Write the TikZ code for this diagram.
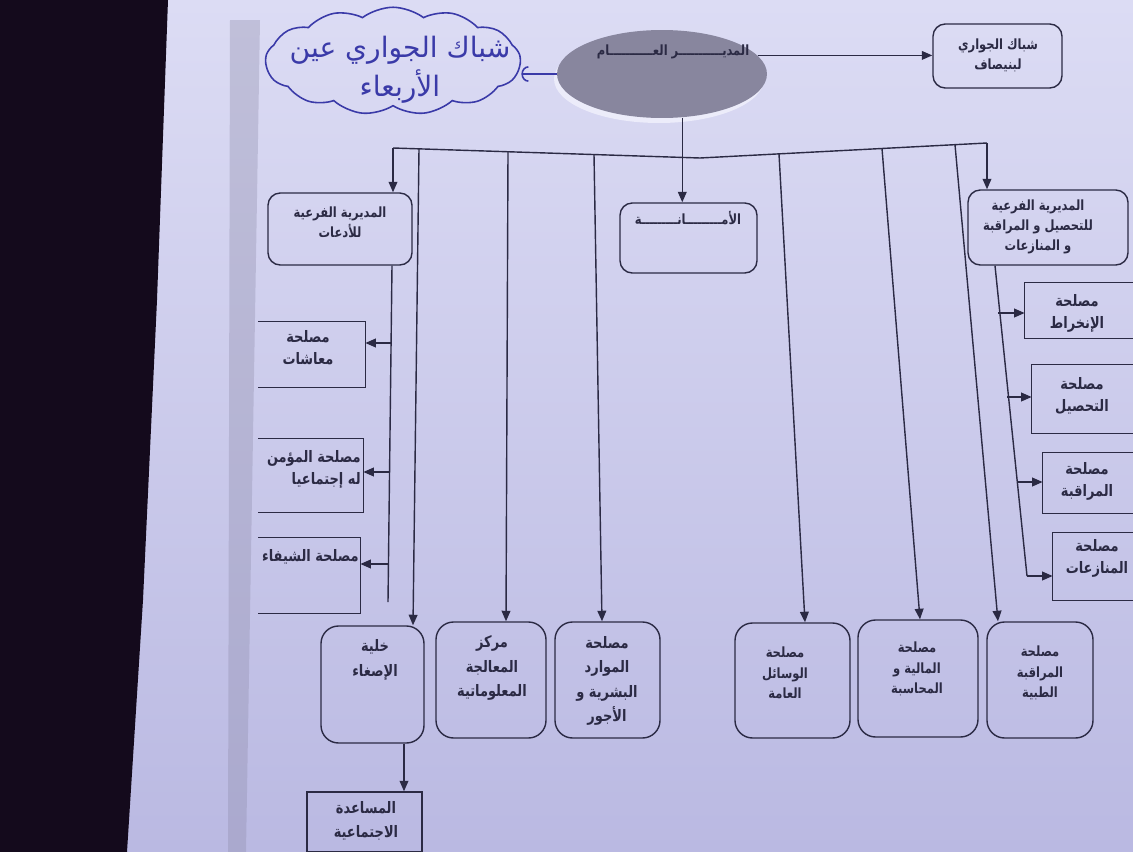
\documentclass[tikz,border=0pt]{standalone}
\usepackage{fontspec}
\usetikzlibrary{arrows.meta,shapes.geometric,shapes.symbols,fit,calc}
\newfontfamily\arabicfont[Script=Arabic, FakeStretch=0.82]{DejaVu Sans}
\newfontfamily\handfont[Script=Arabic]{DejaVu Sans}
\TeXXeTstate=1
\newcommand\ar[1]{\beginR #1\endR}
\definecolor{ink}{HTML}{2B2A44}
\definecolor{handblue}{HTML}{3A3AA8}
\definecolor{paperTop}{HTML}{DCDCF4}
\definecolor{paperBot}{HTML}{BAB9E2}
\definecolor{deskc}{HTML}{140A1C}
\definecolor{shadowc}{HTML}{8E8CAA}
\definecolor{ellc}{HTML}{88869E}
\definecolor{rimc}{HTML}{ECECFA}
\begin{document}
\begin{tikzpicture}[x=0.02cm,y=-0.02cm,
 ln/.style={draw=ink, line width=0.8pt},
 arr/.style={ln, -{Triangle[length=6pt,width=5pt]}},
 rbox/.style={draw=ink, line width=0.8pt, rounded corners=7pt, inner sep=0},
 rbig/.style={draw=ink, line width=0.8pt, rounded corners=10pt, inner sep=0},
 sbox/.style={draw=ink, line width=0.8pt, inner sep=0},
 obox/.style={inner sep=0},
 txt/.style={font=\arabicfont\bfseries\fontsize{8}{11.5}\selectfont, text=ink, align=center, inner sep=0},
 txtm/.style={txt, font=\arabicfont\bfseries\fontsize{9}{12.5}\selectfont},
 txtb/.style={txt, font=\arabicfont\bfseries\fontsize{9}{14}\selectfont},
 hand/.style={font=\handfont\fontsize{16}{22}\selectfont, text=handblue, align=center, inner sep=0},
]
\useasboundingbox (0,0) rectangle (1133,852);
\clip (0,0) rectangle (1133,852);
% background: desk and paper
\shade[top color=paperTop, bottom color=paperBot] (0,0) rectangle (1133,852);
\fill[shadowc, opacity=0.35] (230,20) -- (260,20) -- (246,852) -- (228,852) -- cycle;
\fill[deskc] (0,0) -- (168,0) -- (157,300) -- (143,600) -- (127,852) -- (0,852) -- cycle;

% general director (ellipse)
\fill[rimc] (659,79) ellipse [x radius=2.1cm, y radius=0.88cm];
\node[ellipse, fill=ellc, minimum width=4.2cm, minimum height=1.76cm, inner sep=0] (dg) at (662,74) {};
\node[txt] (dgt) at (673,52) {\ar{المديـــــــــــر العـــــــــــام}};

% handwritten cloud
\node[cloud, cloud puffs=13, cloud puff arc=75, cloud ignores aspect, minimum width=5.1cm, minimum height=2.15cm, draw=handblue, line width=0.9pt, inner sep=0] (cloud) at (393,61) {};
\node[hand] (cloudt) at (400,70) {\ar{شباك الجواري عين}\\\ar{الأربعاء}};
\draw[handblue, line width=0.9pt, -{Arc Barb[length=4pt,width=9pt]}] (dg.west) -- (dg.west -| cloud.east);

% top-right box
\node[rbox, fit={(933,24)(1062,88)}] (shabak) {};
\node[txt] (shabakt) at (998,55) {\ar{شباك الجواري}\\\ar{لبنيصاف}};
\draw[arr] (dg.11) -- (dg.11 -| shabak.west);

% second level boxes
\node[rbox, fit={(268,193)(412,265)}] (adaat) {};
\node[txt] (adaatt) at (340,222) {\ar{المديرية الفرعية}\\\ar{للأدعات}};
\node[rbox, fit={(620,203)(757,273)}] (amana) {};
\node[txt] (amanat) at (688,218) {\ar{الأمـــــــــانـــــــــة}};
\node[rbox, fit={(968,190)(1128,265)}] (tahsil) {};
\node[txt] (tahsilt) at (1038,227) {\ar{المديرية الفرعية}\\\ar{للتحصيل و المراقبة}\\\ar{و المنازعات}};

% bus
\coordinate (bL) at (393,148);
\coordinate (bM) at (700,158);
\coordinate (bR) at (987,143);
\coordinate (v1) at (419,149);
\coordinate (v2) at (508,152);
\coordinate (v3) at (594,154.5);
\coordinate (v4) at (779,154);
\coordinate (v5) at (882,148.5);
\coordinate (v6) at (955,144.7);
\draw[ln] (bL) -- (bM) -- (bR);
\draw[arr] (dg.-65) -- (dg.-65 |- amana.north);
\draw[arr] (bL) -- (bL |- adaat.north);
\draw[arr] (bR) -- (bR |- tahsil.north);

% bottom row
\node[rbig, fit={(321,626)(424,743)}] (khalia) {};
\node[txtb] (khaliat) at (375,660) {\ar{خلية}\\\ar{الإصغاء}};
\node[rbig, fit={(436,622)(546,738)}] (markaz) {};
\node[txtb] (markazt) at (492,668) {\ar{مركز}\\\ar{المعالجة}\\\ar{المعلوماتية}};
\node[rbig, fit={(555,622)(660,738)}] (mawarid) {};
\node[txtb] (mawaridt) at (607,681) {\ar{مصلحة}\\\ar{الموارد}\\\ar{البشرية و}\\\ar{الأجور}};
\node[rbig, fit={(735,623)(850,738)}] (wasail) {};
\node[txt] (wasailt) at (785,673) {\ar{مصلحة}\\\ar{الوسائل}\\\ar{العامة}};
\node[rbig, fit={(858,620)(978,737)}] (maliya) {};
\node[txt] (maliyat) at (917,669) {\ar{مصلحة}\\\ar{المالية و}\\\ar{المحاسبة}};
\node[rbig, fit={(987,622)(1093,738)}] (tibbiya) {};
\node[txt] (tibbiyat) at (1040,673) {\ar{مصلحة}\\\ar{المراقبة}\\\ar{الطبية}};
\node[sbox, fit={(307,792)(422,852)}] (mosa) {};
\node[txtb] (mosat) at (366,821) {\ar{المساعدة}\\\ar{الاجتماعية}};

\draw[arr] (v1) -- ($(khalia.north)+(40.5,0)$);
\draw[arr] (v2) -- ($(markaz.north)+(15,0)$);
\draw[arr] (v3) -- ($(mawarid.north)+(-5.5,0)$);
\draw[arr] (v4) -- ($(wasail.north)+(12.5,0)$);
\draw[arr] (v5) -- ($(maliya.north)+(2,0)$);
\draw[arr] (v6) -- ($(tibbiya.north)+(-42,0)$);
\coordinate (kb) at ($(khalia.south)+(31.5,0)$);
\draw[arr] (kb) -- (kb |- mosa.north);

% left sub-branch
\begin{scope}
\clip (258,0) rectangle (1133,852);
\node[obox, fit={(250,322)(365,387)}] (maashat) {};
\draw[ln] (maashat.north west) -- (maashat.north east) -- (maashat.south east) -- (maashat.south west);
\node[txtm] (maashatt) at (308,348) {\ar{مصلحة}\\\ar{معاشات}};
\node[obox, fit={(250,439)(363,512)}] (moamen) {};
\draw[ln] (moamen.north west) -- (moamen.north east) -- (moamen.south east) -- (moamen.south west);
\node[txtm, anchor=east, align=right] (moament) at (361,469) {\ar{مصلحة المؤمن}\\\ar{له إجتماعيا}};
\node[obox, fit={(250,538)(360,613)}] (shifa) {};
\draw[ln] (shifa.north west) -- (shifa.north east) -- (shifa.south east) -- (shifa.south west);
\node[txtm, anchor=east] (shifat) at (359,557) {\ar{مصلحة الشيفاء}};
\end{scope}
\coordinate (aS) at ($(adaat.south)+(52,0)$);
\coordinate (aE) at (388,602);
\coordinate (a1) at (391,343);
\coordinate (a2) at (390,472);
\coordinate (a3) at (389,564);
\draw[ln] (aS) -- (aE);
\draw[arr] (a1) -- (a1 -| maashat.east);
\draw[arr] (a2) -- (a2 -| moamen.east);
\draw[arr] (a3) -- (a3 -| shifa.east);

% right sub-branch
\node[obox, fit={(1025,283)(1150,338)}] (inkhrat) {};
\draw[ln] (inkhrat.north east) -- (inkhrat.north west) -- (inkhrat.south west) -- (inkhrat.south east);
\node[txtm] (inkhratt) at (1077,313) {\ar{مصلحة}\\\ar{الإنخراط}};
\node[obox, fit={(1032,365)(1150,433)}] (tahsilb) {};
\draw[ln] (tahsilb.north east) -- (tahsilb.north west) -- (tahsilb.south west) -- (tahsilb.south east);
\node[txtm] (tahsilbt) at (1082,396) {\ar{مصلحة}\\\ar{التحصيل}};
\node[obox, fit={(1043,453)(1150,513)}] (moraqaba) {};
\draw[ln] (moraqaba.north east) -- (moraqaba.north west) -- (moraqaba.south west) -- (moraqaba.south east);
\node[txtm] (moraqabat) at (1087,481) {\ar{مصلحة}\\\ar{المراقبة}};
\node[obox, fit={(1053,533)(1150,600)}] (monazaat) {};
\draw[ln] (monazaat.north east) -- (monazaat.north west) -- (monazaat.south west) -- (monazaat.south east);
\node[txtm] (monazaatt) at (1097,558) {\ar{مصلحة}\\\ar{المنازعات}};
\coordinate (tS) at ($(tahsil.south)+(-53,0)$);
\coordinate (t1) at (998,313);
\coordinate (t2) at (1007,397);
\coordinate (t3) at (1017,482);
\coordinate (t4) at (1027,576);
\draw[ln] (tS) -- (t4);
\draw[arr] (t1) -- (t1 -| inkhrat.west);
\draw[arr] (t2) -- (t2 -| tahsilb.west);
\draw[arr] (t3) -- (t3 -| moraqaba.west);
\draw[arr] (t4) -- (t4 -| monazaat.west);
\end{tikzpicture}
\end{document}
